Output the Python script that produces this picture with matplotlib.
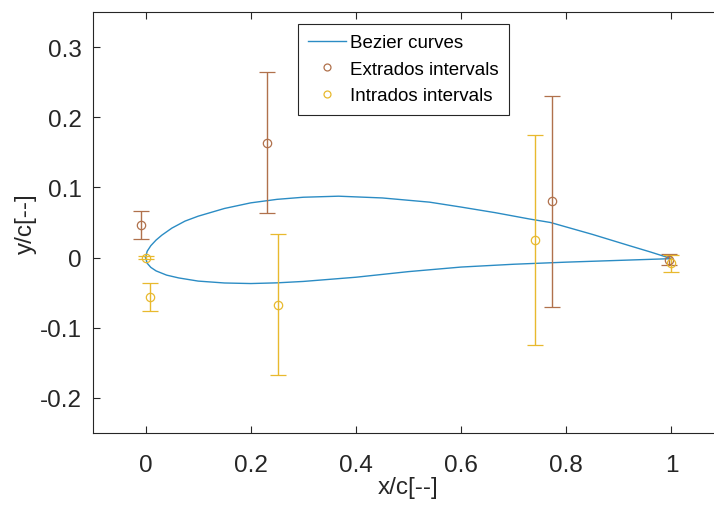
import numpy as np
import matplotlib.pyplot as plt
from matplotlib.lines import Line2D

plt.rcParams['font.family'] = ['Liberation Sans', 'DejaVu Sans']
plt.rcParams['axes.unicode_minus'] = False

# airfoil contour (upper and lower surface)
upperX = [0.0, 0.003, 0.01, 0.02, 0.031, 0.05, 0.075, 0.1, 0.15, 0.2, 0.25, 0.3,
          0.367, 0.45, 0.54, 0.6, 0.665, 0.73, 0.77, 0.85, 0.92, 0.96, 1.0]
upperY = [0.0, 0.009, 0.017, 0.025, 0.032, 0.042, 0.052, 0.059, 0.070, 0.078, 0.083, 0.086,
          0.0875, 0.085, 0.079, 0.072, 0.064, 0.055, 0.050, 0.033, 0.017, 0.008, -0.0015]
lowerX = [0.0, 0.003, 0.01, 0.02, 0.04, 0.063, 0.1, 0.15, 0.2, 0.25, 0.3, 0.4,
          0.5, 0.6, 0.7, 0.8, 0.9, 1.0]
lowerY = [0.0, -0.008, -0.014, -0.019, -0.025, -0.029, -0.0335, -0.0362, -0.037, -0.036, -0.034, -0.028,
          -0.020, -0.0135, -0.0095, -0.0065, -0.004, -0.0015]

# interval centres and half widths
extX = [-0.008, 0.231, 0.7725, 0.995]
extY = [0.046, 0.164, 0.080, -0.003]
extErr = [0.020, 0.100, 0.150, 0.008]

intX = [0.0, 0.008, 0.252, 0.741, 1.0]
intY = [0.0, -0.056, -0.067, 0.025, -0.008]
intErr = [0.002, 0.020, 0.100, 0.150, 0.012]

blue = '#2b8cc4'
brown = '#b0714c'
yellow = '#e8b92e'

fig = plt.figure(figsize=(7.14, 5.06), dpi=100)
ax = fig.add_axes([93 / 714, 72 / 506, 631 / 714, 421 / 506])

ax.plot(upperX, upperY, color=blue, lw=1.0)
ax.plot(lowerX, lowerY, color=blue, lw=1.0)
ax.errorbar(extX, extY, yerr=extErr, fmt='o', mfc='none', mec=brown, ecolor=brown,
            ms=6, mew=0.9, elinewidth=1.0, capsize=5.5, capthick=1.0)
ax.errorbar(intX, intY, yerr=intErr, fmt='o', mfc='none', mec=yellow, ecolor=yellow,
            ms=6, mew=0.9, elinewidth=1.0, capsize=5.5, capthick=1.0)

ax.set_xlim(-0.1, 1.1)
ax.set_ylim(-0.25, 0.35)
ax.set_xticks([0, 0.2, 0.4, 0.6, 0.8, 1])
ax.set_xticklabels(['0', '0.2', '0.4', '0.6', '0.8', '1'])
ax.set_yticks([-0.2, -0.1, 0, 0.1, 0.2, 0.3])
ax.set_yticklabels(['-0.2', '-0.1', '0', '0.1', '0.2', '0.3'])
ax.tick_params(direction='in', length=5, width=0.8, colors='#262626', labelsize=17.5,
               top=True, right=True)
ax.tick_params(axis='x', pad=15)
ax.tick_params(axis='y', pad=8)
for s in ax.spines.values():
    s.set_color('#262626')
    s.set_linewidth(0.8)
ax.set_xlabel('x/c[--]', fontsize=17.5, color='#262626', labelpad=0)
ax.set_ylabel('y/c[--]', fontsize=17.5, color='#262626', labelpad=2)

handles = [
    Line2D([], [], color=blue, lw=1.0),
    Line2D([], [], ls='none', marker='o', mfc='none', mec=brown, ms=5, mew=0.9),
    Line2D([], [], ls='none', marker='o', mfc='none', mec=yellow, ms=5, mew=0.9),
]
labels = ['Bezier curves', 'Extrados intervals', 'Intrados intervals']
leg = ax.legend(handles, labels, loc='upper left', bbox_to_anchor=(298 / 714, 1 - 25 / 506),
                bbox_transform=fig.transFigure, fontsize=13.5, frameon=True, fancybox=False,
                borderpad=0.55, labelspacing=0.5, handlelength=2.0, handletextpad=0.2,
                borderaxespad=0)
leg.get_frame().set_edgecolor('#262626')
leg.get_frame().set_linewidth(0.8)
leg.get_frame().set_alpha(1)

plt.savefig('out.png', dpi=100)
